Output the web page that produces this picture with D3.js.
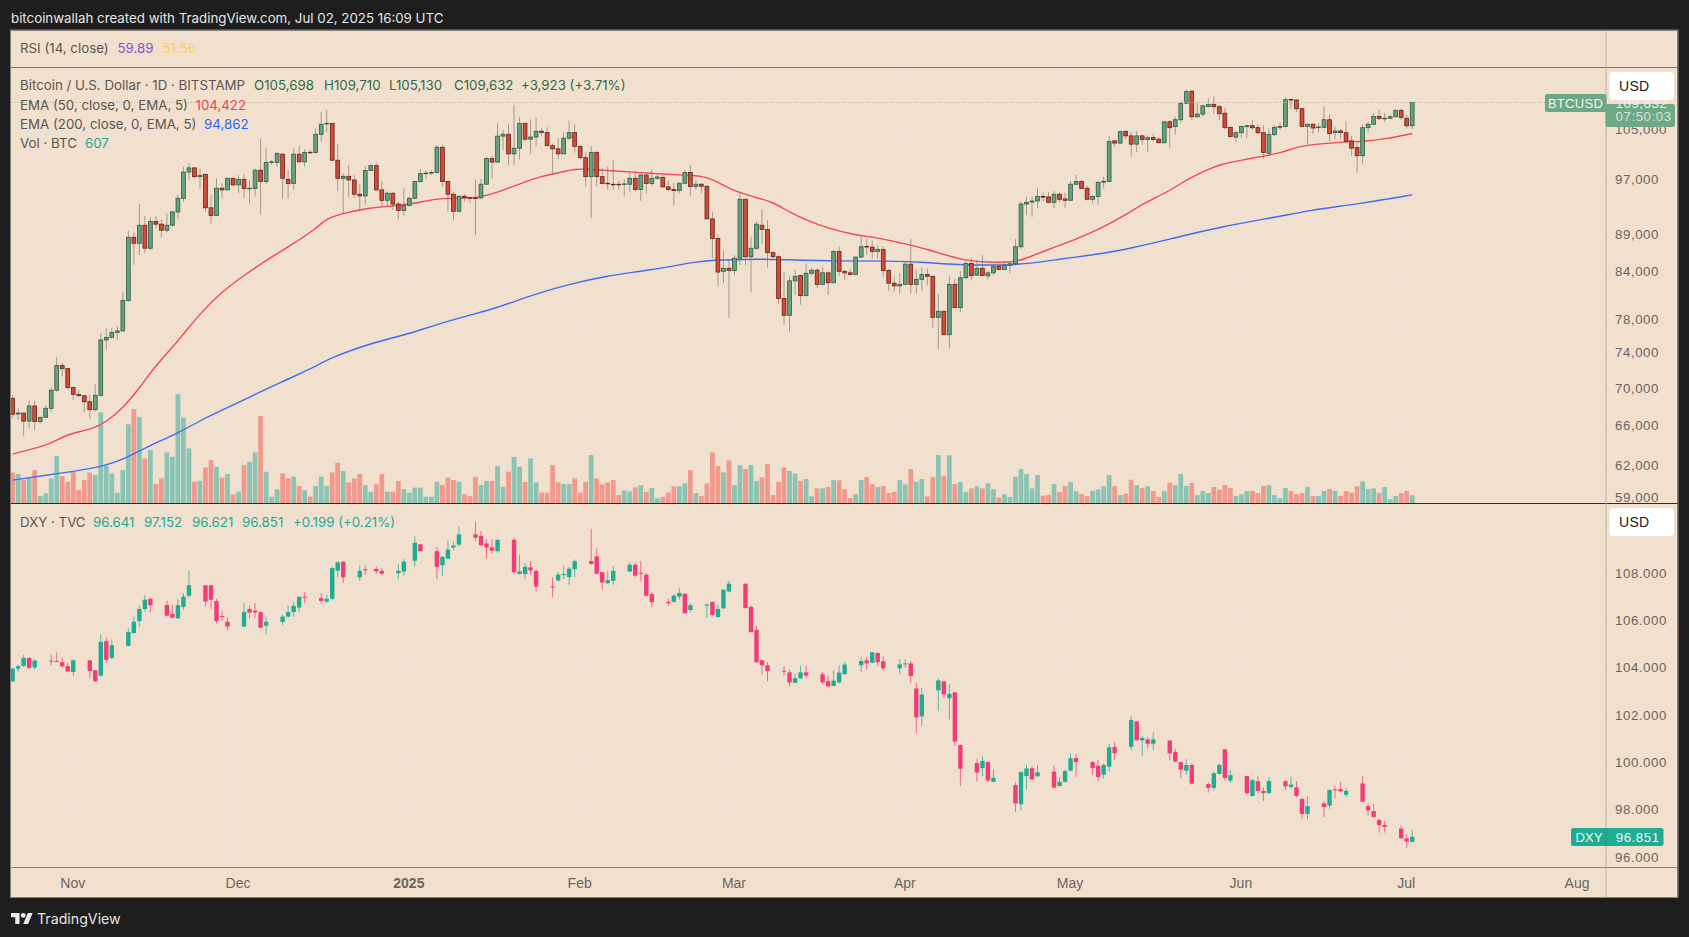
<!DOCTYPE html>
<html><head><meta charset="utf-8">
<script src="https://cdn.jsdelivr.net/npm/d3@7"></script>
<style>html,body{margin:0;padding:0;background:#1e1e1e;overflow:hidden}svg{display:block}text{font-family:Inter,"Noto Sans",sans-serif}</style>
</head><body><svg id="c" width="1689" height="937"></svg>
<script>
// BTC daily candles from 21 Oct 2024, one row per day: open, high, low, close (thousand USD)
const btcOhlc=[
[68.97,69.33,66.85,67.27],[67.3,67.9,66.7,67.4],[67.4,67.4,65.06,66.55],[66.55,68.7,65.8,68.15],[68.15,68.7,65.56,66.5],[66.5,67.0,66.3,66.95],[66.95,68.2,66.9,67.9],[67.9,70.15,67.55,69.85],[69.85,73.6,69.7,72.6],[72.6,72.9,71.36,72.25],
[72.25,72.35,69.9,70.15],[70.15,70.25,68.8,69.4],[69.4,69.9,69.15,69.25],[69.25,69.33,67.5,68.6],[68.6,69.4,66.85,67.75],[67.75,70.5,67.55,69.3],[69.3,76.38,69.15,75.57],[75.57,76.97,74.41,75.88],[75.88,77.05,75.75,76.48],[76.48,77.2,75.57,76.65],
[76.65,81.45,76.57,80.4],[80.4,89.65,80.27,88.76],[88.76,89.45,85.0,87.93],[87.93,93.5,86.35,90.45],[90.45,91.8,86.65,87.25],[87.25,91.65,87.0,91.0],[91.0,91.8,90.0,90.6],[90.6,91.2,88.7,89.75],[89.75,92.15,89.45,90.45],[90.45,92.55,90.25,92.35],
[92.35,94.95,91.3,94.35],[94.35,99.15,93.85,98.3],[98.3,99.65,97.1,98.95],[98.95,99.0,97.35,97.6],[97.6,98.9,95.75,97.8],[97.95,98.1,92.4,92.95],[92.95,94.85,90.7,91.85],[91.85,97.35,91.8,95.85],[95.85,96.6,94.35,95.6],[95.6,97.45,95.5,97.35],
[97.35,97.45,96.25,96.35],[96.35,97.85,95.1,97.2],[97.2,97.95,94.35,95.8],[95.8,97.1,93.6,95.85],[95.8,98.85,94.6,98.6],[98.6,103.55,92.0,96.85],[96.85,102.1,96.45,99.8],[99.8,100.2,99.4,99.9],[99.8,101.5,99.15,101.2],[101.1,101.2,94.2,97.35],
[97.2,98.65,94.25,96.55],[96.55,102.0,95.6,101.1],[101.1,102.45,99.8,99.9],[99.9,101.85,99.15,101.35],[101.4,101.75,101.2,101.35],[101.35,105.25,101.2,104.3],[104.3,107.95,103.1,105.95],[106.05,108.4,104.6,106.1],[106.1,106.1,100.0,100.15],[100.15,102.65,95.45,97.35],
[97.35,98.1,92.15,97.65],[97.65,99.4,94.6,97.1],[97.1,97.85,94.35,94.95],[94.95,96.45,92.4,94.7],[94.7,99.3,93.4,98.55],[98.55,99.5,98.45,99.3],[99.3,99.75,95.45,95.6],[95.6,96.95,93.1,94.05],[94.05,95.35,93.1,95.1],[95.1,95.25,92.65,93.5],
[93.5,93.85,91.3,92.55],[92.55,95.95,91.8,93.3],[93.3,94.6,93.15,94.35],[94.35,96.95,94.25,96.85],[96.85,98.75,96.75,98.05],[98.05,98.6,97.35,98.15],[98.15,98.6,97.85,98.25],[98.25,102.55,98.1,102.2],[102.2,102.55,96.1,96.85],[96.85,96.95,92.4,94.95],
[94.95,95.35,91.2,92.45],[92.45,94.75,92.3,94.65],[94.65,94.95,93.85,94.45],[94.45,94.6,93.65,94.4],[94.4,97.15,89.1,94.35],[94.4,97.25,94.25,96.45],[96.45,100.7,96.35,100.4],[100.4,100.85,97.25,99.85],[99.85,106.1,99.75,104.0],[104.0,105.0,101.75,104.3],
[104.3,105.95,99.4,101.15],[101.15,109.2,99.4,102.05],[102.05,107.2,100.25,106.1],[106.1,106.25,103.1,103.5],[103.5,106.7,101.1,103.85],[103.85,106.95,102.3,104.8],[104.8,105.25,103.95,104.6],[104.6,105.45,102.4,102.45],[102.45,102.8,97.85,101.95],[101.95,103.65,100.25,101.15],
[101.15,104.7,101.1,103.67],[103.67,106.55,103.4,104.6],[104.6,105.95,101.35,102.35],[102.35,102.55,100.25,100.55],[100.55,101.5,96.1,97.6],[97.6,102.45,91.5,101.35],[101.35,101.65,96.1,97.6],[97.6,98.9,96.45,96.55],[96.6,99.15,95.6,96.55],[96.45,100.2,95.6,96.4],
[96.45,96.95,95.6,96.4],[96.45,97.25,94.6,96.5],[96.45,98.25,95.35,97.35],[97.35,98.5,95.45,95.65],[95.65,98.1,93.95,97.85],[97.85,97.95,95.1,96.55],[96.55,98.75,96.25,97.35],[97.35,97.95,97.1,97.55],[97.5,97.85,95.95,96.05],[96.05,96.95,95.45,95.65],
[95.65,96.6,93.25,95.5],[95.5,96.75,95.05,96.6],[96.6,98.6,96.45,98.25],[98.25,99.4,94.75,96.1],[96.1,97.1,95.6,96.45],[96.45,96.6,95.1,96.15],[96.15,96.25,91.3,91.35],[91.35,92.4,85.9,88.6],[88.6,89.2,82.15,84.05],[84.15,87.0,82.6,84.55],
[84.55,85.65,78.2,84.25],[84.25,86.35,83.65,85.9],[85.9,95.1,85.0,94.2],[94.2,94.35,85.0,86.1],[86.1,88.85,81.45,87.25],[87.25,91.0,87.0,90.6],[90.45,92.75,87.8,89.85],[89.85,91.2,84.65,86.65],[86.65,86.8,85.9,86.1],[86.1,86.3,79.95,80.65],
[80.65,84.05,77.35,78.55],[78.55,83.45,76.55,82.9],[82.9,84.35,81.1,83.5],[83.6,83.7,79.85,81.0],[81.0,85.2,80.9,83.9],[83.9,84.65,83.6,84.3],[84.3,84.55,82.0,82.45],[82.45,84.75,82.35,83.95],[83.95,84.15,81.1,82.65],[82.65,87.0,82.6,86.8],
[86.8,87.5,83.55,84.15],[84.15,84.35,83.05,83.95],[83.95,84.5,83.6,83.75],[83.75,86.1,83.65,86.05],[86.05,88.85,85.9,87.45],[87.5,88.6,86.35,87.45],[87.4,88.3,85.8,86.8],[86.8,87.7,85.8,87.1],[87.1,87.5,83.45,84.25],[84.25,84.5,81.6,82.6],
[82.6,83.45,81.45,82.25],[82.25,83.9,81.25,82.45],[82.45,85.45,82.35,85.1],[85.1,88.55,81.25,82.45],[82.45,84.35,81.25,83.1],[83.1,84.65,81.65,83.75],[83.75,84.55,82.3,83.5],[83.5,83.6,77.05,78.3],[78.3,81.2,74.45,79.05],[79.05,79.1,76.1,76.2],
[76.2,83.45,74.6,82.45],[82.45,83.15,79.45,79.5],[79.5,84.15,78.95,83.3],[83.3,85.5,83.25,85.2],[85.2,85.95,83.05,83.6],[83.65,85.65,83.55,84.55],[84.55,86.35,83.55,83.6],[83.55,84.2,83.1,83.95],[83.95,85.0,83.65,84.85],[84.85,85.1,84.3,84.4],
[84.4,85.5,84.3,84.95],[84.95,85.3,83.9,85.15],[85.15,88.55,85.0,87.45],[87.45,93.85,87.15,93.5],[93.5,94.6,91.9,93.75],[93.8,94.6,91.65,93.95],[93.95,95.85,92.85,94.6],[94.6,95.2,93.85,94.55],[94.55,95.25,93.6,93.75],[93.75,95.45,92.85,94.95],
[94.95,95.25,93.75,94.2],[94.25,95.15,92.95,94.05],[94.05,96.95,94.0,96.45],[96.45,97.85,96.35,96.85],[96.85,97.1,95.8,95.8],[95.85,96.2,94.15,94.2],[94.2,94.85,93.6,94.6],[94.6,96.85,93.4,96.75],[96.75,97.6,95.8,96.9],[96.85,104.07,96.75,103.13],
[103.24,103.24,102.3,102.87],[102.87,104.84,102.7,104.73],[104.78,105.0,103.4,104.04],[104.04,104.73,100.7,102.7],[102.7,104.84,101.4,104.04],[104.04,104.2,102.56,103.45],[103.45,104.07,101.4,103.75],[103.75,104.45,103.13,103.45],[103.5,103.75,102.85,102.93],[102.93,106.45,102.85,106.35],
[106.35,106.65,102.13,105.38],[105.55,107.2,104.2,106.7],[106.7,109.65,106.2,109.5],[109.5,111.85,109.3,111.5],[111.6,111.6,106.65,107.2],[107.2,109.5,107.05,107.65],[107.65,109.2,107.2,109.05],[108.95,110.35,108.75,109.3],[109.3,110.7,107.7,108.9],[108.9,109.2,106.65,107.7],
[107.8,108.7,105.15,105.38],[105.45,105.55,103.67,103.93],[103.83,104.84,103.0,104.56],[104.56,105.7,103.75,105.6],[105.55,105.8,103.67,105.7],[105.7,106.65,105.0,105.38],[105.38,105.95,104.3,104.56],[104.56,105.8,100.4,101.35],[101.25,105.27,100.95,104.3],[104.24,105.8,104.07,105.44],
[105.44,106.27,105.0,105.6],[105.6,110.55,105.44,110.1],[110.15,110.3,108.4,110.05],[110.05,110.15,107.95,108.55],[108.55,108.75,105.55,105.6],[105.6,106.1,102.66,105.95],[105.95,106.1,104.3,105.33],[105.38,106.1,104.62,105.5],[105.44,108.95,105.27,106.7],[106.7,107.65,103.2,104.4],
[104.56,105.55,103.55,104.84],[104.84,105.15,103.4,104.56],[104.56,106.45,103.0,103.13],[103.24,104.04,100.85,102.05],[102.15,103.0,98.2,100.85],[100.85,105.95,99.65,105.38],[105.38,106.27,104.62,105.95],[105.95,107.85,105.8,107.25],[107.25,108.4,106.6,106.9],[106.9,107.85,106.37,106.95],
[106.95,107.55,106.85,107.2],[107.2,108.55,107.1,108.25],[108.25,108.65,106.65,107.1],[106.95,107.55,105.27,105.7],[105.698,109.71,105.13,109.632]];
// BTC daily volume
const btcVolume=[2370,2260,1790,2000,2570,550,750,1920,3670,2110,1660,2440,1010,1790,2370,2180,7070,2890,2310,810,2570,6140,7330,6710,3480,4130,1480,1920,3950,3610,8500,6660,4260,1660,1720,2760,3350,2830,1980,2260,680,880,2960,3220,3950,6790,2440,490,1070,2310,1920,2050,1330,1010,490,1330,2050,1330,2390,3150,2500,1610,1920,2260,1400,880,1460,2260,880,880,1720,1090,810,1200,1200,490,490,1660,1400,1980,1790,1660,680,550,2030,1400,1720,1720,2890,1270,2440,3590,2830,1640,3480,1610,810,810,2960,1610,1480,1480,1920,810,1660,3740,1920,1460,1610,1790,620,990,910,1220,1380,860,1170,360,470,810,1300,1300,1530,2570,780,550,1530,3950,2890,2390,3330,1400,2940,2650,2960,1720,2000,3040,620,1640,2780,2500,2290,1720,1870,520,1140,1140,1250,1790,1770,1090,390,680,1790,2030,1480,1250,1330,780,860,1790,1460,2650,1660,1870,520,2030,3740,2110,3720,1480,1640,860,1140,1300,1140,1530,1070,420,680,470,2050,2650,2260,1140,2180,570,620,1480,860,1330,1640,910,700,550,940,1070,1300,2180,1330,620,730,1820,1400,1170,1300,940,470,940,1590,1400,2260,1330,1560,620,940,780,1250,1040,1400,1170,550,680,940,940,780,1330,1400,620,390,1170,940,700,780,1250,550,550,940,1090,940,550,940,810,1300,1690,1090,1140,780,1250,290,550,780,940,607];
// EMA readings: [day number since 21 Oct 2024, value in thousand USD]
const ema50=[[0,63.2],[6,64.05],[8,64.6],[10,65.2],[15,65.8],[17,66.5],[20,67.9],[23,70.07],[26,72.65],[30,75.4],[34,78.8],[38,81.5],[42,83.65],[48,86.55],[50,87.4],[55,89.9],[57,91.45],[60,92.15],[65,93.0],[69,93.2],[73,93.6],[77,94.3],[80,94.35],[85,94.35],[90,95.85],[92,96.5],[96,97.7],[100,98.35],[102,98.75],[104,98.8],[108,98.55],[116,98.1],[122,97.8],[125,97.7],[127,97.25],[131,95.35],[135,94.45],[138,93.8],[141,92.3],[144,91.2],[148,90.0],[153,89.05],[157,88.7],[161,88.0],[166,87.15],[172,85.65],[177,85.35],[182,85.3],[185,86.2],[188,87.1],[193,88.5],[197,89.8],[202,91.9],[205,93.5],[210,95.45],[213,97.1],[216,98.35],[219,99.5],[224,100.3],[227,100.8],[230,101.25],[233,102.25],[236,102.65],[242,103.1],[245,103.1],[249,103.5],[254,104.422]];
const ema200=[[0,60.67],[8,61.3],[15,61.8],[20,62.6],[24,63.85],[30,65.3],[34,66.6],[38,67.7],[42,68.8],[48,70.55],[55,72.45],[57,73.3],[65,75.2],[72,76.3],[77,77.45],[84,78.75],[88,79.5],[92,80.5],[96,81.45],[101,82.45],[107,83.45],[116,84.35],[125,85.55],[128,85.65],[136,85.8],[140,85.7],[150,85.5],[159,85.55],[166,85.35],[171,85.0],[180,84.95],[185,85.2],[191,85.9],[197,86.4],[203,87.25],[210,88.5],[219,90.2],[230,91.7],[235,92.55],[245,93.6],[254,94.862]];
// DXY candles: day number since 21 Oct 2024, open, high, low, close
const dxyOhlc=[
[0,103.42,103.99,103.4,103.96],[1,103.96,104.14,103.82,104.06],[2,104.07,104.55,104.03,104.41],[3,104.41,104.45,103.96,103.99],[4,104.01,104.34,103.93,104.3],[7,104.3,104.55,104.1,104.28],[8,104.28,104.64,104.24,104.24],[9,104.23,104.43,103.99,104.06],[10,104.07,104.2,103.82,103.84],[11,103.82,104.34,103.65,104.31],
[14,104.31,104.31,103.56,103.86],[15,103.89,103.91,103.39,103.43],[16,103.66,105.42,103.63,105.09],[17,105.12,105.28,104.2,104.33],[18,104.41,105.19,104.35,104.95],[21,104.92,105.66,104.91,105.5],[22,105.46,106.16,105.45,105.94],[23,105.97,106.62,105.73,106.48],[24,106.48,107.06,106.37,106.87],[25,106.91,106.96,106.33,106.64],
[28,106.65,106.82,106.16,106.2],[29,106.27,106.65,106.09,106.11],[30,106.09,106.91,106.06,106.64],[31,106.57,107.15,106.45,107.0],[32,107.04,108.1,106.94,107.48],[35,107.48,107.48,106.58,106.8],[36,107.48,107.5,106.48,106.87],[37,106.82,106.91,105.87,105.97],[38,106.18,106.4,105.97,106.17],[39,105.94,106.13,105.59,105.74],
[42,105.74,106.72,105.7,106.35],[43,106.48,106.62,106.09,106.33],[44,106.41,106.72,106.09,106.33],[45,106.35,106.37,105.66,105.69],[46,105.77,106.16,105.42,105.94],[49,105.93,106.23,105.8,106.16],[50,106.16,106.62,106.11,106.35],[51,106.35,106.77,106.16,106.61],[52,106.54,107.02,106.34,106.99],[53,107.0,107.19,106.72,106.99],
[56,106.94,107.15,106.72,106.82],[57,106.79,107.08,106.72,106.91],[58,106.91,108.26,106.84,108.21],[59,108.1,108.5,107.82,108.45],[60,108.48,108.5,107.57,107.82],[63,107.82,108.31,107.67,108.09],[64,108.16,108.31,107.93,108.11],[66,108.17,108.28,107.96,108.07],[67,108.09,108.21,107.89,107.97],[70,107.99,108.38,107.76,108.09],
[71,108.06,108.58,107.89,108.48],[73,108.52,109.55,108.27,109.28],[74,109.21,109.23,108.89,108.92],[77,108.92,109.09,107.74,108.26],[78,108.33,108.71,107.86,108.68],[79,108.61,109.38,108.57,108.99],[80,109.08,109.32,108.96,109.16],[81,109.2,109.96,109.13,109.63],[84,109.63,110.17,109.35,109.49],[85,109.57,109.77,109.13,109.18],
[86,109.25,109.42,108.61,109.08],[87,109.08,109.42,108.82,108.94],[88,108.92,109.42,108.85,109.4],[91,109.4,109.49,107.96,108.03],[92,107.96,108.78,107.93,108.07],[93,107.96,108.43,107.74,108.26],[94,108.24,108.5,107.93,108.11],[95,108.09,108.17,107.21,107.43],[98,107.43,107.82,106.98,107.4],[99,107.69,108.04,107.65,107.93],
[100,107.91,108.31,107.74,107.96],[101,107.83,108.26,107.5,108.18],[102,108.16,108.57,107.82,108.5],[105,108.5,109.86,108.35,108.38],[106,108.7,109.04,107.93,107.97],[107,108.04,108.04,107.29,107.6],[108,107.57,108.1,107.53,107.7],[109,107.67,108.31,107.5,108.09],[112,108.06,108.45,108.04,108.35],[113,108.35,108.45,107.82,107.89],
[114,108.01,108.52,107.65,107.97],[115,107.93,108.0,107.01,107.04],[116,107.11,107.19,106.55,106.77],[119,106.78,106.91,106.61,106.72],[120,106.78,107.11,106.75,107.04],[121,107.0,107.36,106.87,107.16],[122,107.12,107.15,106.27,106.3],[123,106.44,106.72,106.35,106.64],[126,106.62,106.72,106.11,106.67],[127,106.78,106.79,106.18,106.23],
[128,106.14,106.65,106.13,106.48],[129,106.51,107.32,106.48,107.29],[130,107.22,107.67,107.18,107.55],[133,107.55,107.55,106.48,106.52],[134,106.57,106.65,105.5,105.5],[135,105.6,105.76,104.21,104.23],[136,104.31,104.34,103.72,104.1],[137,104.1,104.23,103.43,103.86],[140,103.87,104.06,103.67,103.86],[141,103.8,103.91,103.21,103.38],
[142,103.36,103.74,103.35,103.55],[143,103.55,104.09,103.52,103.8],[144,103.8,104.09,103.55,103.67],[147,103.72,103.8,103.29,103.38],[148,103.43,103.66,103.21,103.21],[149,103.23,103.89,103.21,103.45],[150,103.38,104.1,103.32,103.79],[151,103.73,104.23,103.7,104.13],[154,104.1,104.43,103.8,104.28],[155,104.31,104.45,103.91,104.18],
[156,104.21,104.67,104.18,104.65],[157,104.62,104.65,104.06,104.23],[158,104.27,104.48,103.86,103.97],[161,103.97,104.35,103.72,104.14],[162,104.17,104.35,104.0,104.18],[163,104.18,104.28,103.35,103.65],[164,103.12,103.36,101.22,101.9],[165,101.94,103.16,101.52,102.87],[168,103.04,103.53,102.16,103.46],[169,103.42,103.46,102.75,102.87],
[170,102.71,103.3,101.82,102.89],[171,102.96,102.98,100.68,100.88],[172,100.73,100.77,99.01,99.73],[175,99.97,100.13,99.18,99.57],[176,99.76,100.26,99.42,100.06],[177,100.01,100.03,99.15,99.23],[178,99.18,99.7,99.16,99.35],[182,99.04,99.15,97.9,98.26],[183,98.23,99.62,97.97,99.59],[184,99.42,99.91,98.84,99.74],
[185,99.75,99.85,99.25,99.28],[186,99.41,99.89,99.39,99.58],[189,99.61,99.85,98.9,98.93],[190,99.0,99.37,98.97,99.18],[191,99.18,99.7,99.14,99.63],[192,99.65,100.37,99.62,100.17],[193,100.18,100.34,99.39,100.01],[196,100.01,100.06,99.48,99.76],[197,99.85,100.1,99.2,99.38],[198,99.48,99.96,99.31,99.89],
[199,99.82,100.77,99.61,100.63],[200,100.65,100.86,100.1,100.39],[203,100.66,101.96,100.52,101.79],[204,101.73,101.75,100.92,100.93],[205,100.93,101.13,100.27,101.03],[206,100.97,101.06,100.59,100.79],[207,100.79,101.27,100.52,100.97],[210,100.92,100.93,100.1,100.38],[211,100.44,100.58,100.01,100.03],[212,100.01,100.03,99.34,99.69],
[213,99.65,100.13,99.48,99.89],[214,99.89,99.96,99.06,99.1],[217,99.08,99.15,98.72,98.92],[218,98.92,99.62,98.8,99.54],[219,99.51,99.96,99.48,99.89],[220,100.55,100.56,99.23,99.34],[221,99.23,99.68,99.14,99.46],[224,99.42,99.42,98.62,98.7],[225,98.58,99.32,98.55,99.25],[226,99.2,99.41,98.69,98.79],
[227,98.79,98.94,98.37,98.7],[228,98.7,99.37,98.66,99.21],[231,99.2,99.25,98.83,98.99],[232,98.96,99.39,98.89,99.06],[233,98.94,99.21,98.52,98.58],[234,98.45,98.52,97.62,97.82],[235,97.82,98.58,97.61,98.15],[238,98.27,98.37,97.69,98.11],[239,98.17,98.86,98.04,98.83],[240,98.86,99.0,98.49,98.85],
[241,98.87,99.17,98.76,98.77],[242,98.63,98.92,98.55,98.79],[245,99.11,99.42,98.32,98.34],[246,98.15,98.28,97.75,97.97],[247,97.94,98.24,97.66,97.69],[248,97.56,97.62,97.03,97.35],[249,97.35,97.52,97.03,97.27],[252,97.2,97.34,96.76,96.79],[253,96.79,96.97,96.39,96.65],[254,96.641,97.152,96.621,96.851]];
const btcTicks=[105,97,89,84,78,74,70,66,62,59];
const btcExtraGrid=[115];
const dxyTicks=[108,106,104,102,100,98,96];
const dxyExtraGrid=[110];
const monthTicks=[[2024,10,"Nov"],[2024,11,"Dec"],[2025,0,"2025"],[2025,1,"Feb"],[2025,2,"Mar"],[2025,3,"Apr"],[2025,4,"May"],[2025,5,"Jun"],[2025,6,"Jul"],[2025,7,"Aug"]];
const lastClose="109,632", lastDxy="96.851";

const BG="#f2e0cf",DARK="#1e1e1e",GRID="#ebe2da";
const L=11,R=1677.5,AX=1605.5,TOP=30.5,RSIB=67,SEP=503,TAX=867,BOT=897;
const svg=d3.select("#c");
const day0=Date.UTC(2024,9,21),DAY=864e5;
const dateOf=d=>new Date(day0+d*DAY);
const x=d3.scaleUtc().domain([dateOf(0),dateOf(254)]).range([12.63,1412.2]);
const yB=d3.scaleLog().domain([59,105]).range([498,130]);
const yV=d3.scaleLinear().domain([0,7800]).range([SEP,403]);
const yD=d3.scaleLinear().domain([96,108]).range([857,573]);
svg.append("rect").attr("width",1689).attr("height",937).attr("fill",DARK);
svg.append("rect").attr("x",L).attr("y",TOP).attr("width",R-L).attr("height",BOT-TOP).attr("fill",BG);
const defs=svg.append("defs");
defs.append("clipPath").attr("id","pa").append("rect").attr("x",L).attr("y",RSIB).attr("width",AX-L).attr("height",SEP-RSIB);
defs.append("clipPath").attr("id","pb").append("rect").attr("x",L).attr("y",SEP).attr("width",AX-L).attr("height",TAX-SEP);
const hline=(y,c,w=1,a=L,b=AX)=>svg.append("line").attr("x1",a).attr("x2",b).attr("y1",y).attr("y2",y).attr("stroke",c).attr("stroke-width",w);
// grid
const months=monthTicks.map(m=>new Date(Date.UTC(m[0],m[1],1)));
svg.append("g").selectAll("line").data(months).join("line").attr("x1",d=>x(d)).attr("x2",d=>x(d)).attr("y1",RSIB).attr("y2",TAX).attr("stroke",GRID).attr("stroke-width",1);
btcTicks.concat(btcExtraGrid).forEach(t=>hline(Math.round(yB(t))+.5,GRID,1));
dxyTicks.concat(dxyExtraGrid).forEach(t=>hline(Math.round(yD(t))+.5,GRID,1));
// volume
const pa=svg.append("g").attr("clip-path","url(#pa)");
const upVol="#8cc4b4",dnVol="#f09a8e";
pa.append("g").selectAll("rect").data(btcVolume).join("rect")
 .attr("x",(d,i)=>x(dateOf(i))-2.4).attr("width",4.8).attr("y",d=>yV(d)).attr("height",d=>SEP-yV(d))
 .attr("fill",(d,i)=>btcOhlc[i][3]>=btcOhlc[i][0]?upVol:dnVol);
// price line
svg.append("line").attr("x1",L).attr("x2",AX).attr("y1",yB(109.632)).attr("y2",yB(109.632)).attr("stroke","#a8b79f").attr("stroke-width",1).attr("stroke-dasharray","1 2");
// EMA
const ln=d3.line().x(d=>x(dateOf(d[0]))).y(d=>yB(d[1])).curve(d3.curveBasis);
pa.append("path").attr("d",ln(ema200)).attr("fill","none").attr("stroke","#3f6df0").attr("stroke-width",1.4);
pa.append("path").attr("d",ln(ema50)).attr("fill","none").attr("stroke","#f2485a").attr("stroke-width",1.4);
// BTC candles
const bc=pa.append("g").selectAll("g").data(btcOhlc).join("g");
bc.append("line").attr("x1",(d,i)=>x(dateOf(i))).attr("x2",(d,i)=>x(dateOf(i))).attr("y1",d=>yB(d[1])).attr("y2",d=>yB(d[2])).attr("stroke","#6f6f66").attr("stroke-opacity",.62).attr("stroke-width",1);
bc.append("rect").attr("x",(d,i)=>x(dateOf(i))-1.9).attr("width",3.8)
 .attr("y",d=>yB(Math.max(d[0],d[3]))).attr("height",d=>Math.max(.6,Math.abs(yB(d[0])-yB(d[3]))))
 .attr("fill",d=>d[3]>=d[0]?"#679f80":"#cf4c3a").attr("stroke",d=>d[3]>=d[0]?"#2c5e44":"#6b2015").attr("stroke-width",.8);
// DXY candles
const pb=svg.append("g").attr("clip-path","url(#pb)");
const upD="#20ab93",dnD="#f23c78";
const dc=pb.append("g").selectAll("g").data(dxyOhlc).join("g");
dc.append("line").attr("x1",d=>x(dateOf(d[0]))).attr("x2",d=>x(dateOf(d[0]))).attr("y1",d=>yD(d[2])).attr("y2",d=>yD(d[3])).attr("stroke",d=>d[4]>=d[1]?upD:dnD).attr("stroke-opacity",.75).attr("stroke-width",1);
dc.append("rect").attr("x",d=>x(dateOf(d[0]))-2.2).attr("width",4.4)
 .attr("y",d=>yD(Math.max(d[1],d[4]))).attr("height",d=>Math.max(1,Math.abs(yD(d[1])-yD(d[4]))))
 .attr("fill",d=>d[4]>=d[1]?upD:dnD);
// separators
hline(RSIB+.5,"#7f7268",1,L,R);
hline(SEP+.5,"#2a2a2a",1.2,L,R);
hline(TAX+.5,"#8d8277",1,L,R);
svg.append("line").attr("x1",AX+.5).attr("x2",AX+.5).attr("y1",TOP).attr("y2",BOT).attr("stroke","#bfb2a5");
svg.append("rect").attr("x",L-.5).attr("y",TOP-.5).attr("width",R-L+1).attr("height",BOT-TOP+1).attr("fill","none").attr("stroke","#8a8178");
// axes
const axisCol="#6a6560";
const styleAxis=(g,fs)=>{g.select(".domain").remove();g.selectAll("line").remove();g.selectAll("text").attr("fill",axisCol).style("font-size",fs).style("font-family","'Liberation Sans',Arial,sans-serif").style("letter-spacing",".55px");};
const fmtB=d3.format(",");
svg.append("g").attr("transform",`translate(${AX},-1)`).call(d3.axisRight(yB).tickValues(btcTicks).tickSize(0).tickPadding(9.5).tickFormat(d=>fmtB(d*1000))).call(g=>styleAxis(g,"13.3px"));
svg.append("g").attr("transform",`translate(${AX},0)`).call(d3.axisRight(yD).tickValues(dxyTicks).tickSize(0).tickPadding(9.5).tickFormat(d3.format(".3f"))).call(g=>styleAxis(g,"13.3px"));
svg.append("g").attr("transform",`translate(-1,${TAX+7})`).call(d3.axisBottom(x).tickValues(months).tickSize(0).tickPadding(4).tickFormat((d,i)=>monthTicks[i][2])).call(g=>{styleAxis(g,"14px");g.selectAll("text").style("letter-spacing","0").attr("font-weight",(d,i)=>monthTicks[i][2]==="2025"?"700":"400");});
// text helper
const T=(s,xx,yy,c,fs=13.3,w=400,anchor="start",fam)=>{const t=svg.append("text").attr("x",xx).attr("y",yy).attr("fill",c).attr("font-size",fs).attr("font-weight",w).attr("text-anchor",anchor).attr("dominant-baseline","central").text(s);if(fam)t.style("font-family",fam);return t;};
T("bitcoinwallah created with TradingView.com, Jul 02, 2025 16:09 UTC",11,17.5,"#e6e6e6",13.3);
const LG="#5a5650";
T("RSI (14, close)",20,48,LG);T("59.89",117.5,48,"#7e57c2");T("51.56",162.5,48,"#f7d354");
T("Bitcoin / U.S. Dollar · 1D · BITSTAMP",20,85,LG);
const G="#2f6b49";
[["O105,698",254],["H109,710",324],["L105,130",389],["C109,632",454],["+3,923 (+3.71%)",521]].forEach(a=>T(a[0],a[1],85,G));
T("EMA (50, close, 0, EMA, 5)",20,104.5,LG);T("104,422",195.5,104.5,"#f23d4f");
T("EMA (200, close, 0, EMA, 5)",20,124,LG);T("94,862",204,124,"#2f62f5");
T("Vol · BTC",20,143,LG);T("607",85,143,"#25a695");
const TC="#1fa98f";
T("DXY · TVC",20,522,LG);
[["96.641",93],["97.152",144],["96.621",192],["96.851",242],["+0.199 (+0.21%)",293]].forEach(a=>T(a[0],a[1],522,TC));
// price tags
const AF="'Liberation Sans',Arial,sans-serif";
const tag=(a,b,c,d,f)=>svg.append("rect").attr("x",a).attr("y",c).attr("width",b-a).attr("height",d-c).attr("rx",2.5).attr("fill",f);
tag(1545,1606.5,94,112,"#6ea887");
T("BTCUSD",1575.5,103,"#f3f6f2",13,400,"middle",AF).style("letter-spacing",".3px");
tag(1605.5,1675,104,127,"#6ea887");
T(lastClose,1615.5,103,"#eef2ec",13.3,400,"start",AF).style("letter-spacing",".55px");
T("07:50:03",1615.5,116.5,"#d3e5da",13.3,400,"start",AF).style("letter-spacing",".55px");
tag(1571,1663.5,828,846,"#20ab93");
T("DXY",1575.5,837,"#f1f8f5",13,400,"start",AF).style("letter-spacing",".2px");
T(lastDxy,1615.7,837,"#f1f8f5",13.3,400,"start",AF).style("letter-spacing",".55px");
svg.append("line").attr("x1",AX+.5).attr("x2",AX+.5).attr("y1",828).attr("y2",846).attr("stroke","#1c9c86");
// USD buttons
[[72,86],[508,522]].forEach(p=>{svg.append("rect").attr("x",1609.5).attr("y",p[0]).attr("width",64.5).attr("height",28).attr("rx",4).attr("fill","#fff");T("USD",1619,p[1],"#1a1a1a",14,400,"start",AF).style("letter-spacing",".3px");});
// logo
svg.append("g").attr("transform","translate(11,910.5) scale(.61)").attr("fill","#eaeaea").call(g=>{g.append("path").attr("d","M14 22H7V11H0V4h14v18zM28 22h-8l7.5-18h8L28 22z");g.append("circle").attr("cx",20).attr("cy",8).attr("r",4);});
T("TradingView",37,918,"#e4e4e4",14.2);
</script></body></html>
